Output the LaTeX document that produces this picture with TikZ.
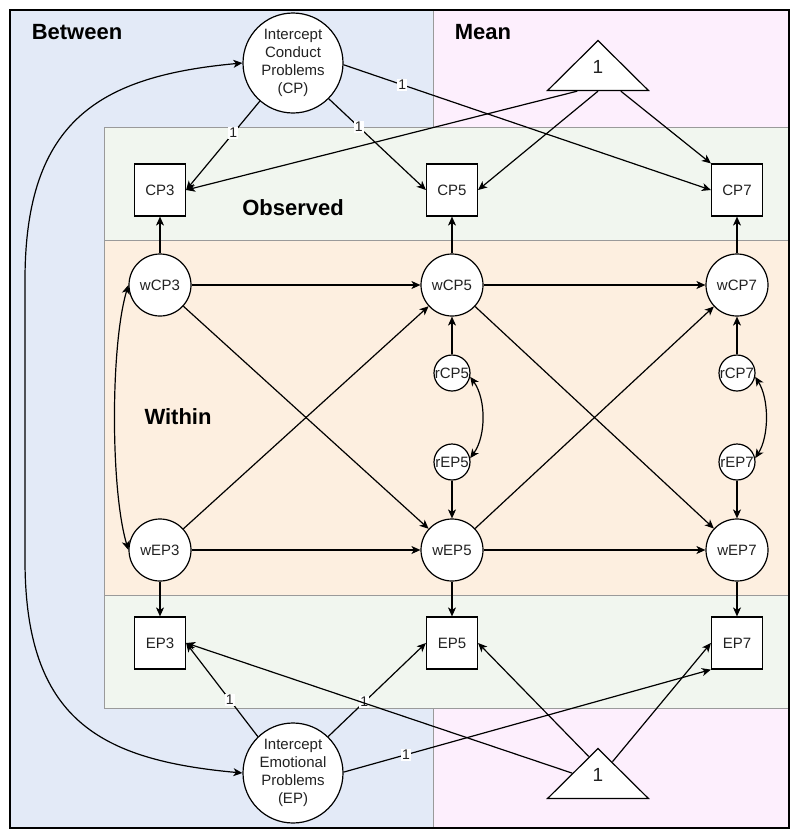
\documentclass[tikz,border=0pt]{standalone}
\usepackage{fontspec}
\setmainfont{Liberation Sans}
\usetikzlibrary{shapes.geometric,arrows.meta,calc}
\definecolor{betweenblue}{HTML}{E3EAF7}
\definecolor{meanpink}{HTML}{FDEFFD}
\definecolor{obsgreen}{HTML}{F1F6EF}
\definecolor{withinorange}{HTML}{FDEFE0}
\definecolor{regionline}{HTML}{9A9A9A}
\definecolor{nodetext}{HTML}{222222}
\begin{document}
\begin{tikzpicture}[x=1pt,y=-1pt,
  nodefont/.style={font=\fontsize{15}{18}\selectfont,text=nodetext},
  latent/.style={circle,draw,fill=white,line width=1.2pt,inner sep=0pt,minimum size=62pt,nodefont},
  resid/.style={latent,minimum size=36pt},
  icpt/.style={latent,minimum size=100pt,align=center},
  obs/.style={rectangle,draw,fill=white,line width=1.2pt,inner sep=0pt,minimum width=51pt,minimum height=52pt,nodefont},
  meantri/.style={isosceles triangle,isosceles triangle stretches=true,shape border rotate=90,draw,fill=white,line width=1.2pt,inner sep=0pt,minimum width=101pt,minimum height=50pt,font=\fontsize{19}{19}\selectfont,text=nodetext},
  heading/.style={font=\bfseries\fontsize{22}{26}\selectfont},
  region/.style={draw=regionline,line width=0.8pt},
  conn/.style={line width=1.2pt,-{Stealth[length=9pt,width=8pt,inset=2.5pt]}},
  biconn/.style={line width=1.2pt,{Stealth[length=9pt,width=8pt,inset=2.5pt]}-{Stealth[length=9pt,width=8pt,inset=2.5pt]}},
  elabel/.style={fill=white,inner sep=1pt,font=\fontsize{14}{14}\selectfont,text=nodetext}
]
\useasboundingbox (0,0) rectangle (800,839);
% regions
\fill[betweenblue] (10,10) rectangle (433,828);
\fill[meanpink] (433,10) rectangle (789,828);
\draw[region] (433,10) -- (433,828);
\draw[region,fill=obsgreen] (104,127) rectangle (789,240);
\draw[region,fill=withinorange] (104,240) rectangle (789,595);
\draw[region,fill=obsgreen] (104,595) rectangle (789,708);
\draw[line width=1.5pt] (10,10) rectangle (789,828);

% headings
\node[heading] (hBetween) at (77,32) {Between};
\node[heading] (hMean) at (483,32) {Mean};
\node[heading] (hObserved) at (293,208) {Observed};
\node[heading] (hWithin) at (178,417) {Within};

% nodes
\node[icpt] (ICP) at (293,63) {Intercept\\Conduct\\Problems\\(CP)};
\node[icpt] (IEP) at (293,773) {Intercept\\Emotional\\Problems\\(EP)};
\node[meantri,anchor=apex] (T1) at (598,39) {\smash{\raisebox{-1.5pt}{1}}};
\node[meantri,anchor=apex] (T2) at (598,747) {\smash{\raisebox{-1.5pt}{1}}};

\node[obs] (CP3) at (160,190) {CP3};
\node[obs] (CP5) at (452,190) {CP5};
\node[obs] (CP7) at (737,190) {CP7};
\node[obs] (EP3) at (160,643) {EP3};
\node[obs] (EP5) at (452,643) {EP5};
\node[obs] (EP7) at (737,643) {EP7};

\node[latent] (wCP3) at (160,285) {wCP3};
\node[latent] (wCP5) at (452,285) {wCP5};
\node[latent] (wCP7) at (737,285) {wCP7};
\node[latent] (wEP3) at (160,550) {wEP3};
\node[latent] (wEP5) at (452,550) {wEP5};
\node[latent] (wEP7) at (737,550) {wEP7};

\node[resid] (rCP5) at (452,373) {rCP5};
\node[resid] (rEP5) at (452,462) {rEP5};
\node[resid] (rCP7) at (737,373) {rCP7};
\node[resid] (rEP7) at (737,462) {rEP7};

% within -> observed
\draw[conn] (wCP3) -- (CP3);
\draw[conn] (wCP5) -- (CP5);
\draw[conn] (wCP7) -- (CP7);
\draw[conn] (wEP3) -- (EP3);
\draw[conn] (wEP5) -- (EP5);
\draw[conn] (wEP7) -- (EP7);

% autoregressive
\draw[conn] (wCP3) -- (wCP5);
\draw[conn] (wCP5) -- (wCP7);
\draw[conn] (wEP3) -- (wEP5);
\draw[conn] (wEP5) -- (wEP7);
% cross-lagged
\draw[conn] (wCP3) -- (wEP5);
\draw[conn] (wEP3) -- (wCP5);
\draw[conn] (wCP5) -- (wEP7);
\draw[conn] (wEP5) -- (wCP7);
% residuals
\draw[conn] (rCP5) -- (wCP5);
\draw[conn] (rEP5) -- (wEP5);
\draw[conn] (rCP7) -- (wCP7);
\draw[conn] (rEP7) -- (wEP7);
\draw[biconn] (rCP5.-12) .. controls +(16,22) and +(16,-22) .. (rEP5.12);
\draw[biconn] (rCP7.-12) .. controls +(14,22) and +(14,-22) .. (rEP7.12);
\draw[biconn] (wCP3.west) .. controls +(-18,60) and +(-18,-60) .. (wEP3.west);

% intercepts
\draw[conn] (ICP.229) -- (CP3.east) node[elabel,pos=0.36] {1};
\draw[conn] (ICP.-45) -- (CP5.west) node[elabel,pos=0.31] {1};
\draw[conn] (ICP.-2) -- (CP7.west) node[elabel,pos=0.16] {1};
\draw[conn] (IEP.134) -- (EP3.east) node[elabel,pos=0.39] {1};
\draw[conn] (IEP.46) -- (EP5.west) node[elabel,pos=0.37] {1};
\draw[conn] (IEP.1) -- (EP7.south west) node[elabel,pos=0.17] {1};
\draw[biconn] (ICP.west) .. controls (100,76) and (25,120) .. (25,280) -- (25,560) .. controls (25,720) and (100,760) .. (IEP.west);

% means
\draw[conn] ($(T1.left corner)!0.3!(T1.right corner)$) -- (CP3.east);
\draw[conn] ($(T1.left corner)!0.5!(T1.right corner)$) -- (CP5.east);
\draw[conn] ($(T1.left corner)!0.72!(T1.right corner)$) -- (CP7.north west);
\draw[conn] ($(T2.left corner)!0.5!(T2.apex)$) -- (EP3.east);
\draw[conn] ($(T2.left corner)!0.82!(T2.apex)$) -- (EP5.east);
\draw[conn] ($(T2.right corner)!0.72!(T2.apex)$) -- (EP7.west);
\end{tikzpicture}
\end{document}
